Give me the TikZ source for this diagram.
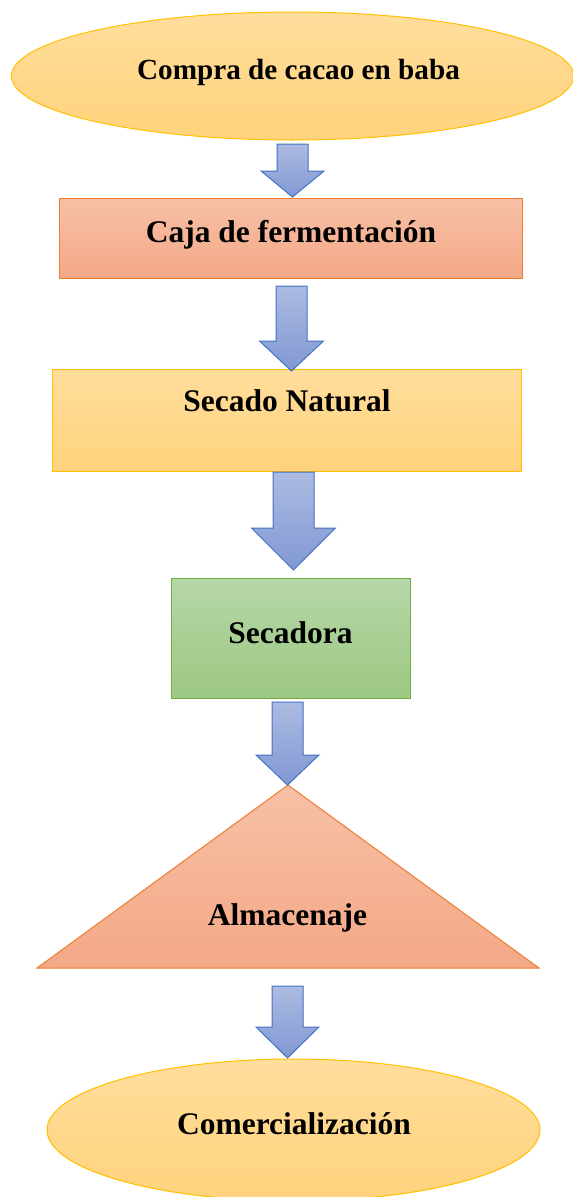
\documentclass[tikz,border=0pt]{standalone}
\usepackage{fontspec}
\setmainfont{Liberation Serif}
\usetikzlibrary{shapes.geometric}

\definecolor{amarilloA}{HTML}{FFDD9C}
\definecolor{amarilloB}{HTML}{FFD37C}
\definecolor{amarilloL}{HTML}{FFC000}
\definecolor{salmonA}{HTML}{F7C0A6}
\definecolor{salmonB}{HTML}{F4A886}
\definecolor{salmonL}{HTML}{ED7D31}
\definecolor{verdeA}{HTML}{B6D7A8}
\definecolor{verdeB}{HTML}{9DC882}
\definecolor{verdeL}{HTML}{70AD47}
\definecolor{azulA}{HTML}{ACBBE2}
\definecolor{azulB}{HTML}{8198D3}
\definecolor{azulL}{HTML}{4472C4}

\tikzset{
  inicio/.style={ellipse, draw=amarilloL, line width=1pt, inner sep=0pt,
    top color=amarilloA, bottom color=amarilloB},
  caja/.style={rectangle, line width=1pt, inner sep=0pt},
  texto/.style={anchor=base, inner sep=0pt, font=\bfseries\fontsize{31.5}{36}\selectfont},
  flecha/.style={draw=azulL, line width=1pt, line join=miter,
    top color=azulA, bottom color=azulB}
}

% flecha{x}{y arriba}{y cabeza}{y punta}{medio ancho}{medio ancho cabeza}
\newcommand{\flecha}[6]{%
  \draw[flecha] (#1-#5,#2) -- (#1+#5,#2) -- (#1+#5,#3) -- (#1+#6,#3)
    -- (#1,#4) -- (#1-#6,#3) -- (#1-#5,#3) -- cycle;}

\begin{document}
\begin{tikzpicture}[x=1pt,y=-1pt]
  \useasboundingbox (0,0) rectangle (573,1197);

  % etapas
  \node[inicio, minimum width=562, minimum height=128] (compra) at (292.5,76) {};
  \node[caja, draw=salmonL, top color=salmonA, bottom color=salmonB,
        minimum width=463, minimum height=80] (caja) at (290.5,238) {};
  \node[caja, draw=amarilloL, top color=amarilloA, bottom color=amarilloB,
        minimum width=469, minimum height=102] (natural) at (286.5,420) {};
  \node[caja, draw=verdeL, top color=verdeA, bottom color=verdeB,
        minimum width=239, minimum height=120] (secadora) at (290.5,638) {};
  \coordinate (A) at (288,785);
  \coordinate (B) at (539,968);
  \coordinate (C) at (37,968);
  \draw[salmonL, line width=1pt, line join=miter, top color=salmonA,
        bottom color=salmonB] (A) -- (B) -- (C) -- cycle;
  \node[inicio, minimum width=493, minimum height=142] (comercial) at (293.5,1130) {};

  % textos
  \node[texto, font=\bfseries\fontsize{29.2}{34}\selectfont] (t1) at (298.5,79)
    {Compra de cacao en baba};
  \node[texto] (t2) at (291,242) {Caja de fermentación};
  \node[texto] (t3) at (287,411) {Secado Natural};
  \node[texto] (t4) at (290.5,643) {Secadora};
  \node[texto] (t5) at (287.5,925) {Almacenaje};
  \node[texto] (t6) at (294,1134) {Comercialización};

  % flechas
  \flecha{292.5}{144}{171}{197}{15.5}{31.5}
  \flecha{291.5}{286}{341}{371}{15.5}{32}
  \flecha{293.5}{472}{528}{570}{20.5}{42}
  \flecha{287.5}{702}{755}{785}{15.5}{31.5}
  \flecha{287.5}{986}{1027}{1058}{15.5}{31.5}
\end{tikzpicture}
\end{document}
